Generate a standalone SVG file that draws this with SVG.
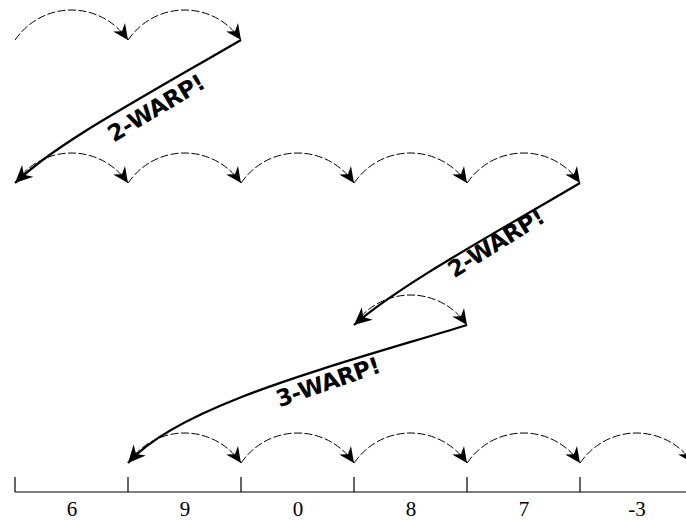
<svg xmlns="http://www.w3.org/2000/svg" width="686" height="521" viewBox="0 0 686 521">
<defs>
<marker id="ah" markerUnits="userSpaceOnUse" markerWidth="20" markerHeight="20" viewBox="-16 -8 18 16" refX="0" refY="0" orient="auto">
<path d="M0,0 L-14,-6.5 L-9.5,0 L-14,6.5 Z" fill="#000"/>
</marker>
<marker id="ahw" markerUnits="userSpaceOnUse" markerWidth="22" markerHeight="22" viewBox="-18 -9 20 18" refX="0" refY="0" orient="auto">
<path d="M0,0 L-16,-7.5 L-11,0 L-16,7.5 Z" fill="#000"/>
</marker>
</defs>
<style>
.hop{fill:none;stroke:#000;stroke-width:1;stroke-dasharray:8,2.5;marker-end:url(#ah)}
.warp{fill:none;stroke:#000;stroke-width:2.3;marker-end:url(#ahw)}
.wl{font-family:"DejaVu Sans",sans-serif;font-weight:bold;font-size:23px;letter-spacing:-0.5px;fill:#000;text-anchor:middle;dominant-baseline:central}
.num{font-family:"Liberation Serif",serif;font-size:21px;fill:#000;text-anchor:middle}
.axis{fill:none;stroke:#000;stroke-width:1.2}
</style>
<g id="connectors">
<path class="hop" d="M15,40 C43,0 100,0 128,40"/>
<path class="hop" d="M128,40 C156,0 213,0 241,40"/>
<path class="warp" d="M241,40 C120,110 55,145 15,183"/>
<path class="hop" d="M15,183 C43,143 100,143 128,183"/>
<path class="hop" d="M128,183 C156,143 213,143 241,183"/>
<path class="hop" d="M241,183 C269,143 326,143 354,183"/>
<path class="hop" d="M354,183 C382,143 439,143 467,183"/>
<path class="hop" d="M467,183 C495,143 552,143 580,183"/>
<path class="warp" d="M580,183 C490,236 400,285 354,325"/>
<path class="hop" d="M354,325 C382,285 439,285 467,325"/>
<path class="warp" d="M467,325 C330,367 180,405 128,463"/>
<path class="hop" d="M128,463 C156,423 213,423 241,463"/>
<path class="hop" d="M241,463 C269,423 326,423 354,463"/>
<path class="hop" d="M354,463 C382,423 439,423 467,463"/>
<path class="hop" d="M467,463 C495,423 552,423 580,463"/>
<path class="hop" d="M580,463 C608,423 665,423 693,463"/>
</g>
<g id="label-warp1"><text class="wl" transform="translate(156,108) rotate(-31)">2-WARP!</text></g>
<g id="label-warp2"><text class="wl" transform="translate(496,243) rotate(-32)">2-WARP!</text></g>
<g id="label-warp3"><text class="wl" transform="translate(328,382) rotate(-19)">3-WARP!</text></g>
<g id="numberline">
<path class="axis" d="M15,492 H686 M15,477 V492 M128,477 V492 M241,477 V492 M354,477 V492 M467,477 V492 M580,477 V492"/>
<text class="num" x="72" y="516">6</text>
<text class="num" x="185" y="516">9</text>
<text class="num" x="298" y="516">0</text>
<text class="num" x="411" y="516">8</text>
<text class="num" x="524" y="516">7</text>
<text class="num" x="637" y="516">-3</text>
</g>
</svg>
